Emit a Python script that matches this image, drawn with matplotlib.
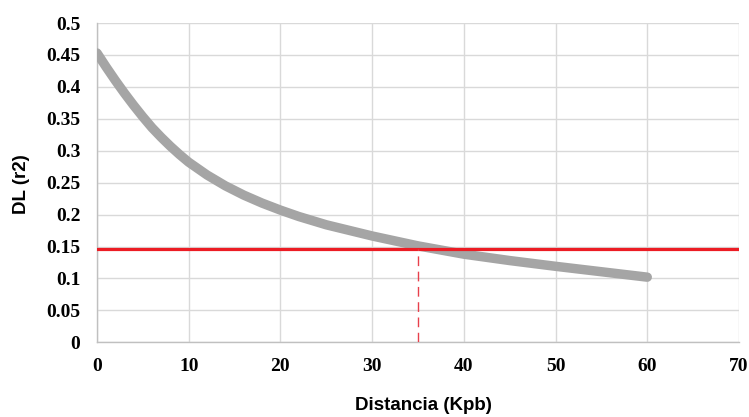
import matplotlib
matplotlib.use("Agg")
import matplotlib.pyplot as plt

distance_kpb = [0, 1, 2, 3, 4, 5, 6, 7, 8, 9, 10, 12, 14, 16, 18, 20, 22, 25, 30, 35,
                40, 45, 50, 55, 60]
ld_r2 = [0.453, 0.431, 0.410, 0.390, 0.371, 0.353, 0.336, 0.321, 0.307, 0.294, 0.282,
         0.262, 0.245, 0.2305, 0.218, 0.207, 0.197, 0.184, 0.1665, 0.151,
         0.138, 0.128, 0.119, 0.1105, 0.102]
threshold_r2 = 0.146
threshold_distance = 35
x_ticks = [0, 10, 20, 30, 40, 50, 60, 70]
y_ticks = [0, 0.05, 0.1, 0.15, 0.2, 0.25, 0.3, 0.35, 0.4, 0.45, 0.5]
y_tick_labels = ["0", "0.05", "0.1", "0.15", "0.2", "0.25", "0.3", "0.35", "0.4", "0.45", "0.5"]

W, H = 749, 417
fig = plt.figure(figsize=(W / 100, H / 100), dpi=100)
ax = fig.add_axes([97 / W, 1 - 342.3 / H, (739 - 97) / W, (342.3 - 23) / H])

ax.plot(distance_kpb, ld_r2, color="#a5a5a5", lw=6.8, solid_capstyle="round",
        solid_joinstyle="round", zorder=3)
ax.axhline(threshold_r2, color="#ec1c24", lw=2.3, zorder=4)
ax.plot([threshold_distance, threshold_distance], [0, threshold_r2], color="#e8404c",
        lw=1.0, dashes=(7, 4), zorder=4)

ax.set_xlim(0, 70)
ax.set_ylim(0, 0.5)
ax.set_xticks(x_ticks)
ax.set_yticks(y_ticks)
ax.set_yticklabels(y_tick_labels)
ax.grid(True, color="#d9d9d9", lw=1.0, zorder=0)
ax.set_axisbelow(True)
for s in ["top", "right"]:
    ax.spines[s].set_visible(False)
for s in ["left", "bottom"]:
    ax.spines[s].set_color("#c0c0c0")
    ax.spines[s].set_linewidth(1.0)
ax.tick_params(axis="y", length=0, pad=12)
ax.tick_params(axis="x", length=0, pad=11)
for lab in ax.get_xticklabels() + ax.get_yticklabels():
    lab.set_fontfamily("Liberation Serif")
    lab.set_fontweight("bold")
    lab.set_fontsize(14)

fig.text(22 / W, 1 - 184 / H, "DL (r2)", rotation=90, ha="center", va="center",
         fontfamily="Liberation Sans", fontweight="bold", fontsize=13.5)
fig.text(423 / W, 1 - 405 / H, "Distancia (Kpb)", ha="center", va="center",
         fontfamily="Liberation Sans", fontweight="bold", fontsize=13.5)

fig.savefig("out.png", dpi=100)
